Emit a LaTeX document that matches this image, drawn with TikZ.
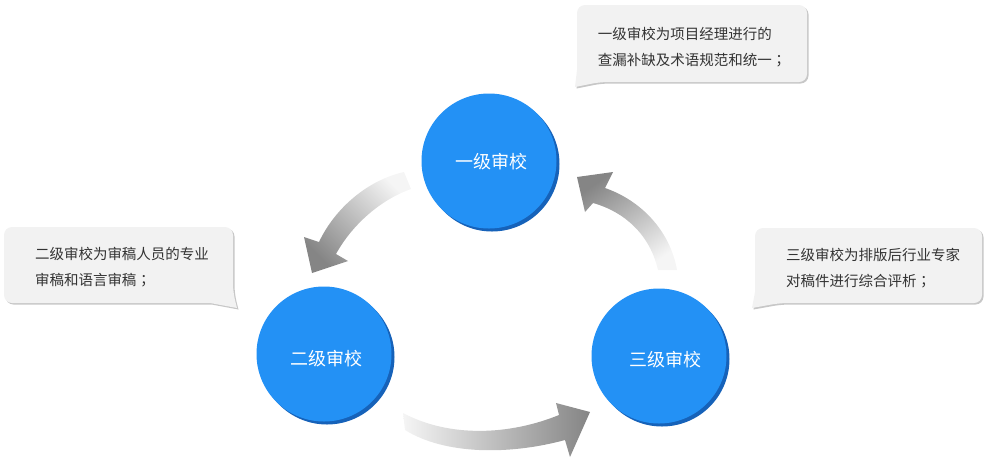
\documentclass[tikz,border=0pt]{standalone}
\usepackage{fontspec}
\setmainfont{Noto Sans CJK SC}
\newfontfamily\punctfont{Noto Sans CJK TC}
\usetikzlibrary{shadows}
\definecolor{ballblue}{RGB}{35,145,245}
\definecolor{balledge}{RGB}{22,98,185}
\definecolor{notegray}{RGB}{242,242,242}
\definecolor{notetext}{RGB}{51,51,51}
\newcommand{\semi}{{\punctfont ；}}
\newcommand{\nudge}[3]{\hspace*{#1}\raisebox{#2}[\height][\depth]{#3}}
\begin{document}
\begin{tikzpicture}[x=1pt,y=-1pt,
  level/.style={circle, fill=ballblue, minimum size=135pt, inner sep=0pt, text=white,
    font=\fontsize{18}{20}\selectfont,
    drop shadow={shadow xshift=3pt, shadow yshift=-3pt, fill=balledge, opacity=1}},
  bubble/.style={fill=notegray,
    drop shadow={shadow xshift=1.5pt, shadow yshift=-1.5pt, fill=black!22, opacity=1}},
  note/.style={align=left, inner sep=0pt, text=notetext, font=\fontsize{14.5}{26}\selectfont}]
  \useasboundingbox (0,0) rectangle (989,459);
  % callouts
  \fill[bubble] (692,5) [rounded corners=8pt] -- (807,5) -- (807,82) -- (600,82)
    [sharp corners] -- (575,87) -- (577,70) [rounded corners=8pt] -- (577,5) -- cycle;
  \fill[bubble] (118,227) [rounded corners=8pt] -- (233,227) -- (233,292)
    [sharp corners] -- (237,308) -- (210,303) [rounded corners=8pt] -- (4,303) -- (4,227) -- cycle;
  \fill[bubble] (868,228) [rounded corners=8pt] -- (982,228) -- (982,303) -- (780,303)
    [sharp corners] -- (752,308) -- (755,292) [rounded corners=8pt] -- (755,228) -- cycle;
  \node[note] (n1) at (692,47) {一级审校为项目经理进行的\\查漏补缺及术语规范和统一\semi};
  \node[note] (n2) at (122,267) {二级审校为审稿人员的专业\\审稿和语言审稿\semi};
  \node[note] (n3) at (873,268) {三级审校为排版后行业专家\\对稿件进行综合评析\semi};
  % arrows
  \shade[top color=black!4, bottom color=black!48, shading angle=-45]
    (404,172) .. controls (368,180) and (335,208) .. (319,242) -- (304,237) -- (312,273)
    -- (348,261) -- (336,254) .. controls (352,225) and (380,200) .. (411,189) -- cycle;
  \shade[left color=black!4, right color=black!48]
    (403,413) .. controls (450,438) and (510,435) .. (559,415) -- (556,403) -- (590,412)
    -- (570,457) -- (565,440) .. controls (510,455) and (445,455) .. (405,430) -- cycle;
  \shade[top color=black!48, bottom color=black!4, shading angle=35]
    (677,270) .. controls (670,230) and (640,200) .. (605,188) -- (613,172) -- (577,177)
    -- (585,212) -- (593,203) .. controls (625,212) and (650,235) .. (658,270) -- cycle;
  % levels
  \node[level] (l1) at (489,161) {\nudge{5pt}{-1pt}{一级审校}};
  \node[level] (l2) at (324,354) {\nudge{4pt}{-5pt}{二级审校}};
  \node[level] (l3) at (659,356) {\nudge{12pt}{-4pt}{三级审校}};
\end{tikzpicture}
\end{document}
